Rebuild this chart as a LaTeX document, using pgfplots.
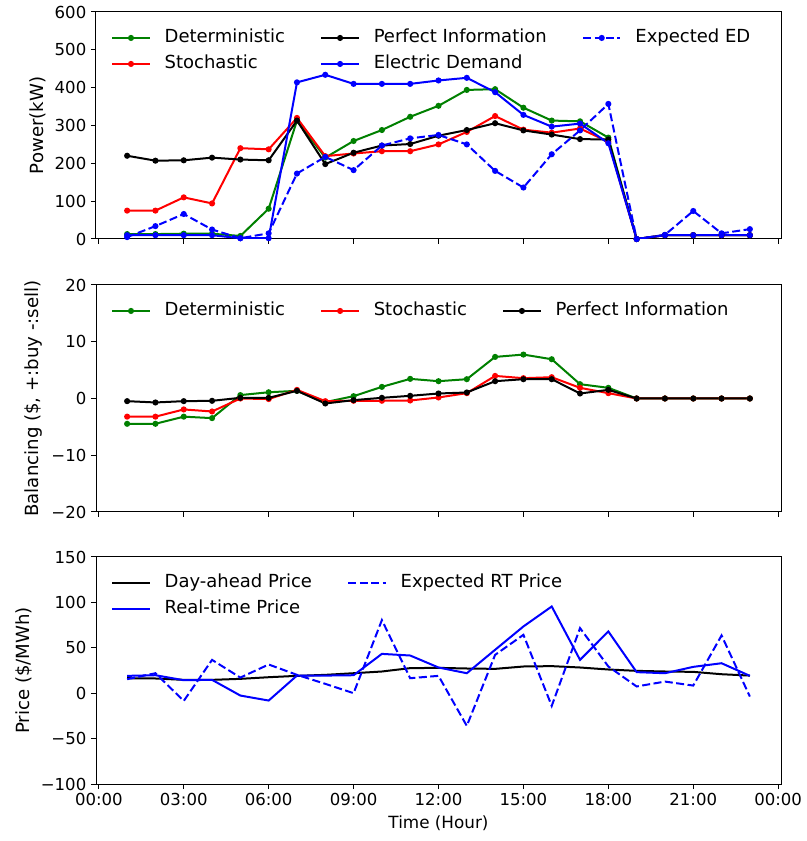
\documentclass[border=0pt]{standalone}
\usepackage{fontspec}
\setmainfont{DejaVu Sans}
\usepackage{pgfplots}
\pgfplotsset{compat=1.18}
\definecolor{mplgreen}{rgb}{0,0.5,0}
\pgfplotsset{
  myaxis/.style={
    scale only axis, width=513.75pt, height=170.25pt,
    xmin=-0.1, xmax=24.1, xtick={0,3,...,24},
    tick align=outside, xtick pos=bottom, ytick pos=left,
    major tick length=3.75pt,
    tick style={black, line width=0.75pt},
    axis line style={line width=0.75pt},
    ticklabel style={font=\fontsize{12.4}{14}\selectfont},
    xlabel style={font=\fontsize{12.6}{14}\selectfont},
    ylabel style={font=\fontsize{13.6}{15}\selectfont},
    /pgf/number format/assume math mode=true,
    legend cell align=left,
    legend style={draw=none, fill=none, at={(axis description cs:0.022,0.925)}, anchor=north west,
      inner sep=0pt, font=\fontsize{13.5}{16}\selectfont, row sep=6.5pt,
      nodes={inner sep=0pt, text height=10pt, text depth=3pt},
      /tikz/every odd column/.append style={column sep=10.5pt},
      /tikz/every even column/.append style={column sep=26.5pt}},
    legend image code/.code={\draw[mark repeat=2,mark phase=2] plot coordinates {(0pt,0pt) (14pt,0pt) (28pt,0pt)};},
  },
  dline/.style={line width=1.5pt, mark=*, mark size=1.5pt, mark options={solid}},
  pline/.style={line width=1.5pt},
  dashedl/.style={dash pattern=on 6pt off 2.6pt},
}
\begin{document}
\begin{tikzpicture}
\path (-72pt,-42.75pt) rectangle (531pt,588pt);
% ---------------- top panel ----------------
\begin{axis}[myaxis, at={(0pt,408.75pt)}, anchor=south west,
  ymin=0, ymax=600, ytick={0,100,...,600},
  xticklabels={}, ylabel={Power(kW)}, legend columns=3]
\addlegendimage{dline, mplgreen}\addlegendentry{Deterministic}
\addlegendimage{dline, black}\addlegendentry{Perfect Information}
\addlegendimage{dline, blue, dashedl}\addlegendentry{Expected ED}
\addlegendimage{dline, red}\addlegendentry{Stochastic}
\addlegendimage{dline, blue}\addlegendentry{Electric Demand}
\addplot[dline, mplgreen, forget plot] coordinates {
(1,13)(2,13)(3,14)(4,14)(5,8)(6,80)(7,313)(8,215)(9,259)(10,288)(11,323)(12,352)
(13,394)(14,396)(15,347)(16,313)(17,311)(18,268)(19,0)(20,10)(21,10)(22,10)(23,10)};
\addplot[dline, red, forget plot] coordinates {
(1,75)(2,75)(3,110)(4,94)(5,240)(6,237)(7,320)(8,219)(9,226)(10,232)(11,232)(12,250)
(13,283)(14,325)(15,289)(16,281)(17,292)(18,257)(19,0)(20,10)(21,10)(22,10)(23,10)};
\addplot[dline, black, forget plot] coordinates {
(1,220)(2,207)(3,208)(4,215)(5,210)(6,208)(7,313)(8,198)(9,228)(10,247)(11,251)(12,273)
(13,288)(14,306)(15,287)(16,276)(17,264)(18,263)(19,0)(20,10)(21,10)(22,10)(23,10)};
\addplot[dline, blue, forget plot] coordinates {
(1,10)(2,10)(3,10)(4,10)(5,2)(6,2)(7,414)(8,434)(9,410)(10,410)(11,410)(12,419)
(13,426)(14,388)(15,328)(16,297)(17,305)(18,253)(19,0)(20,10)(21,10)(22,10)(23,10)};
\addplot[dline, blue, dashedl, forget plot] coordinates {
(1,5)(2,34)(3,66)(4,25)(5,2)(6,15)(7,173)(8,217)(9,182)(10,247)(11,266)(12,275)
(13,250)(14,180)(15,136)(16,224)(17,287)(18,357)(19,0)(20,11)(21,74)(22,15)(23,26)};
\end{axis}
% ---------------- middle panel ----------------
\begin{axis}[myaxis, at={(0pt,204pt)}, anchor=south west,
  ymin=-20, ymax=20, ytick={-20,-10,0,10,20}, yticklabels={−20,−10,0,10,20},
  xticklabels={}, ylabel={Balancing (\$, +:buy -:sell)}, legend columns=3]
\addplot[dline, mplgreen] coordinates {
(1,-4.46)(2,-4.46)(3,-3.2)(4,-3.46)(5,0.6)(6,1.1)(7,1.35)(8,-0.64)(9,0.41)(10,2.05)(11,3.46)(12,3.05)
(13,3.4)(14,7.33)(15,7.74)(16,6.92)(17,2.52)(18,1.88)(19,0)(20,0)(21,0)(22,0)(23,0)};
\addlegendentry{Deterministic}
\addplot[dline, red] coordinates {
(1,-3.2)(2,-3.2)(3,-1.93)(4,-2.29)(5,0)(6,-0.1)(7,1.52)(8,-0.47)(9,-0.4)(10,-0.4)(11,-0.35)(12,0.18)
(13,0.94)(14,3.98)(15,3.58)(16,3.75)(17,1.88)(18,0.94)(19,0)(20,0)(21,0)(22,0)(23,0)};
\addlegendentry{Stochastic}
\addplot[dline, black] coordinates {
(1,-0.47)(2,-0.7)(3,-0.47)(4,-0.41)(5,0.12)(6,0.12)(7,1.35)(8,-0.88)(9,-0.29)(10,0.12)(11,0.47)(12,0.88)
(13,1.06)(14,3.05)(15,3.4)(16,3.4)(17,0.88)(18,1.52)(19,0)(20,0)(21,0)(22,0)(23,0)};
\addlegendentry{Perfect Information}
\end{axis}
% ---------------- bottom panel ----------------
\begin{axis}[myaxis, at={(0pt,0pt)}, anchor=south west,
  ymin=-100, ymax=150, ytick={-100,-50,0,50,100,150}, yticklabels={−100,−50,0,50,100,150},
  xticklabels={00:00,03:00,06:00,09:00,12:00,15:00,18:00,21:00,00:00},
  xlabel={Time (Hour)}, ylabel={Price (\$/MWh)}, legend columns=2]
\addlegendimage{pline, black}\addlegendentry{Day-ahead Price}
\addlegendimage{pline, blue, dashedl}\addlegendentry{Expected RT Price}
\addlegendimage{pline, blue}\addlegendentry{Real-time Price}
\addplot[pline, black, forget plot] coordinates {
(1,16.5)(2,16.2)(3,14.7)(4,14.7)(5,15.8)(6,17.6)(7,19.1)(8,20.2)(9,22)(10,23.9)(11,27.6)(12,27.9)
(13,27.2)(14,26.8)(15,29.4)(16,29.8)(17,28.3)(18,26.1)(19,24.6)(20,23.9)(21,23.5)(22,20.9)(23,19.4)};
\addplot[pline, blue, forget plot] coordinates {
(1,19.1)(2,19.8)(3,14.3)(4,14.7)(5,-2.6)(6,-8.1)(7,19.4)(8,19.4)(9,19.8)(10,43.3)(11,41.5)(12,28.3)
(13,22)(14,47.8)(15,73.5)(16,95.5)(17,36.7)(18,68)(19,23.2)(20,22)(21,29)(22,33)(23,19.1)};
\addplot[pline, blue, dashedl, forget plot] coordinates {
(1,15.4)(2,22)(3,-8.5)(4,36.7)(5,17.2)(6,31.6)(7,20.2)(8,10.3)(9,0)(10,80.5)(11,16.5)(12,19.1)
(13,-36)(14,42.2)(15,64.3)(16,-14)(17,71.7)(18,29.4)(19,7.4)(20,12.8)(21,8.4)(22,63.6)(23,-3.7)};
\end{axis}
\end{tikzpicture}
\end{document}
